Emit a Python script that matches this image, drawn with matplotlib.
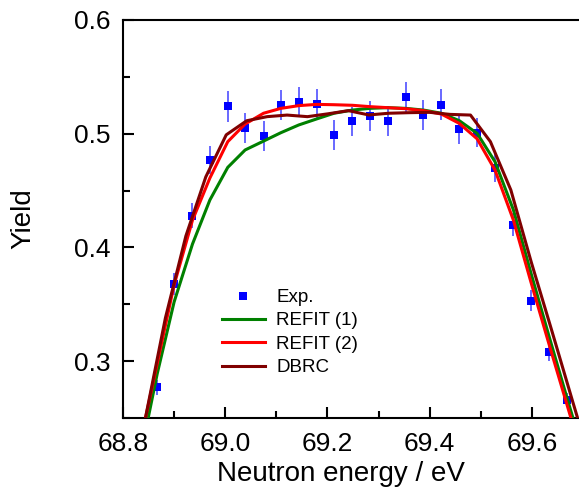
import matplotlib
matplotlib.use("Agg")
import matplotlib.pyplot as plt
from matplotlib.ticker import MultipleLocator, FormatStrFormatter

plt.rcParams['font.family'] = ['Liberation Sans', 'DejaVu Sans']

# Experimental data
exp_energy = [68.867, 68.900, 68.936, 68.970, 69.005, 69.039, 69.075, 69.109,
              69.144, 69.179, 69.213, 69.249, 69.283, 69.318, 69.353, 69.388,
              69.423, 69.458, 69.493, 69.528, 69.564, 69.598, 69.633, 69.668]
exp_yield = [0.277, 0.368, 0.428, 0.477, 0.524, 0.505, 0.498, 0.525,
             0.528, 0.526, 0.499, 0.511, 0.516, 0.511, 0.532, 0.5165,
             0.5255, 0.504, 0.501, 0.470, 0.420, 0.353, 0.308, 0.266]
exp_err = [0.0066, 0.0094, 0.011, 0.0123, 0.0133, 0.0129, 0.0128, 0.0132,
           0.0135, 0.0132, 0.0129, 0.0129, 0.0132, 0.0132, 0.0136, 0.0132,
           0.0135, 0.0129, 0.0129, 0.0126, 0.0103, 0.0092, 0.008, 0.006]

# REFIT curves
refit_energy = [68.832, 68.867, 68.900, 68.936, 68.970, 69.005, 69.039, 69.075,
                69.109, 69.144, 69.179, 69.213, 69.249, 69.283, 69.318, 69.353,
                69.388, 69.423, 69.458, 69.493, 69.528, 69.564, 69.598, 69.633,
                69.668, 69.703]
refit1 = [0.212, 0.289, 0.352, 0.403, 0.4417, 0.4704, 0.4857, 0.4935,
          0.5009, 0.5077, 0.513, 0.518, 0.5208, 0.5223, 0.5229, 0.5223,
          0.5208, 0.518, 0.5115, 0.5003, 0.4754, 0.433, 0.378, 0.323,
          0.269, 0.216]
refit2 = [0.225, 0.298, 0.367, 0.424, 0.461, 0.493, 0.5085, 0.518,
          0.5223, 0.5247, 0.5258, 0.5255, 0.525, 0.5238, 0.5229, 0.522,
          0.5203, 0.5173, 0.5091, 0.4955, 0.468, 0.424, 0.370, 0.316,
          0.263, 0.210]

# DBRC curve
dbrc_energy = [68.843, 68.883, 68.923, 68.962, 69.002, 69.042, 69.082, 69.121,
               69.161, 69.201, 69.241, 69.281, 69.320, 69.360, 69.400, 69.440,
               69.480, 69.519, 69.559, 69.599, 69.639, 69.679, 69.718]
dbrc = [0.248, 0.338, 0.410, 0.462, 0.499, 0.5114, 0.515, 0.5164,
        0.515, 0.5175, 0.5203, 0.5165, 0.518, 0.5185, 0.5188, 0.517,
        0.5164, 0.493, 0.4505, 0.387, 0.327, 0.266, 0.207]

fig = plt.figure(figsize=(5.79, 4.96), dpi=100)
ax = fig.add_axes([123/579, 1 - 418/496, 456/579, 398/496])

ax.errorbar(exp_energy, exp_yield, yerr=exp_err, fmt='none',
            ecolor='#3030ff', elinewidth=1.2, alpha=0.85, zorder=2)
ax.plot(exp_energy, exp_yield, 's', color='#0000ff', markersize=5.5,
        markeredgewidth=0, label='Exp.', zorder=3)
ax.plot(refit_energy, refit1, '-', color='#008000', lw=2.2, label='REFIT (1)', zorder=4)
ax.plot(refit_energy, refit2, '-', color='#ff0000', lw=2.2, label='REFIT (2)', zorder=5)
ax.plot(dbrc_energy, dbrc, '-', color='#800000', lw=2.2, label='DBRC', zorder=6)

ax.set_xlim(68.8, 68.8 + 456/511)
ax.set_ylim(0.25, 0.6)

ax.xaxis.set_major_locator(MultipleLocator(0.2))
ax.xaxis.set_minor_locator(MultipleLocator(0.1))
ax.yaxis.set_major_locator(MultipleLocator(0.1))
ax.yaxis.set_minor_locator(MultipleLocator(0.05))
ax.xaxis.set_major_formatter(FormatStrFormatter('%.1f'))
ax.yaxis.set_major_formatter(FormatStrFormatter('%.1f'))

ax.tick_params(which='both', direction='in', top=False, right=False, width=1.5)
ax.tick_params(which='major', length=8)
ax.tick_params(which='minor', length=4.8)
ax.tick_params(axis='x', which='major', labelsize=19, pad=10)
ax.tick_params(axis='y', which='major', labelsize=19, pad=9)

for s in ['left', 'bottom', 'top']:
    ax.spines[s].set_linewidth(1.5)
ax.spines['right'].set_visible(False)

ax.set_xlabel('Neutron energy / eV', fontsize=20)
ax.xaxis.set_label_coords(0.478, -0.108)
ax.set_ylabel('Yield', fontsize=20, va='center')
ax.yaxis.set_label_coords(-0.219, 0.5)

leg = ax.legend(loc='upper left', bbox_to_anchor=(221.7/579, 1 - 289/496),
                bbox_transform=fig.transFigure, frameon=False, fontsize=13.5,
                handlelength=2.3, handletextpad=0.6, labelspacing=0.33,
                borderpad=0, borderaxespad=0)

fig.savefig('out.png', dpi=100)
